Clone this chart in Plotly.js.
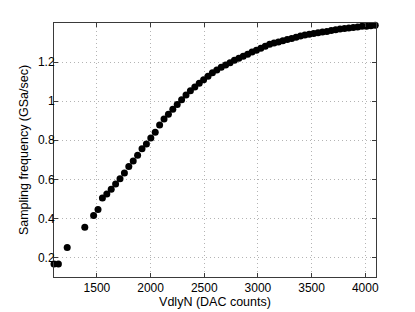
<!DOCTYPE html>
<html>
<head>
<meta charset="utf-8">
<script src="https://cdn.plot.ly/plotly-3.0.1.min.js"></script>
<style>html,body{margin:0;padding:0;background:#fff;}#chart{width:415px;height:312px;}</style>
</head>
<body>
<div id="chart"></div>
<script>
const vdlyN = [1100, 1141, 1223, 1387, 1469, 1510, 1551, 1592, 1633, 1674, 1715, 1756, 1797, 1838, 1879, 1920, 1961,
  2002, 2043, 2084, 2125, 2166, 2207, 2248, 2289, 2330, 2371, 2412, 2453, 2494, 2535,
  2576, 2617, 2658, 2699, 2740, 2781, 2822, 2863, 2904, 2945, 2986, 3027, 3068, 3109, 3150, 3191,
  3232, 3273, 3314, 3355, 3396, 3437, 3478, 3519, 3560, 3601, 3642, 3683, 3724, 3765, 3806, 3847,
  3888, 3929, 3970, 4011, 4052, 4093];
const freqGSa = [0.166, 0.167, 0.251, 0.355, 0.415, 0.446, 0.504, 0.525, 0.549, 0.576, 0.603, 0.632, 0.665, 0.694, 0.723, 0.756, 0.781,
  0.812, 0.841, 0.878, 0.909, 0.933, 0.959, 0.983, 1.007, 1.032, 1.053, 1.073, 1.092, 1.109, 1.128,
  1.146, 1.160, 1.173, 1.185, 1.197, 1.209, 1.220, 1.230, 1.240, 1.251, 1.261, 1.271, 1.281, 1.291, 1.297, 1.303,
  1.309, 1.315, 1.321, 1.327, 1.333, 1.338, 1.342, 1.346, 1.350, 1.354, 1.357, 1.361, 1.365, 1.369, 1.372, 1.374,
  1.377, 1.380, 1.383, 1.384, 1.386, 1.388];
const xTicks = [1500, 2000, 2500, 3000, 3500, 4000];
const yTicks = [0.2, 0.4, 0.6, 0.8, 1, 1.2];
const yTickText = ['0.2', '0.4', '0.6', '0.8', '1', '1.2'];

const fontFam = '"Liberation Sans", Arial, Helvetica, sans-serif';
const trace = {
  x: vdlyN, y: freqGSa, type: 'scatter', mode: 'markers',
  marker: {color: '#000', size: 7, line: {width: 0}},
  cliponaxis: false, hoverinfo: 'none'
};
const axisCommon = {
  showline: true, linecolor: '#3a3a3a', linewidth: 1, mirror: 'ticks',
  ticks: 'inside', ticklen: 4, tickcolor: '#3a3a3a', tickwidth: 1,
  showgrid: true, gridcolor: '#b4b4b4', griddash: '1px,3px', gridwidth: 1,
  zeroline: false, tickfont: {family: fontFam, size: 12, color: '#000'}
};
const layout = {
  width: 415, height: 312,
  margin: {l: 54, r: 39, t: 23, b: 35},
  paper_bgcolor: '#fff', plot_bgcolor: '#fff',
  showlegend: false,
  font: {family: fontFam, size: 12, color: '#000'},
  xaxis: Object.assign({}, axisCommon, {
    range: [1100, 4100], tickvals: xTicks, ticktext: xTicks.map(String),
    title: {text: 'VdlyN (DAC counts)', font: {family: fontFam, size: 12.5}, standoff: 2}
  }),
  yaxis: Object.assign({}, axisCommon, {
    range: [0.1, 1.4], tickvals: yTicks, ticktext: yTickText, ticklabelstandoff: -4,
    title: {text: 'Sampling frequency (GSa/sec)', font: {family: fontFam, size: 12.5}, standoff: 6}
  })
};
Plotly.newPlot('chart', [trace], layout, {displayModeBar: false, staticPlot: true});
</script>
</body>
</html>
